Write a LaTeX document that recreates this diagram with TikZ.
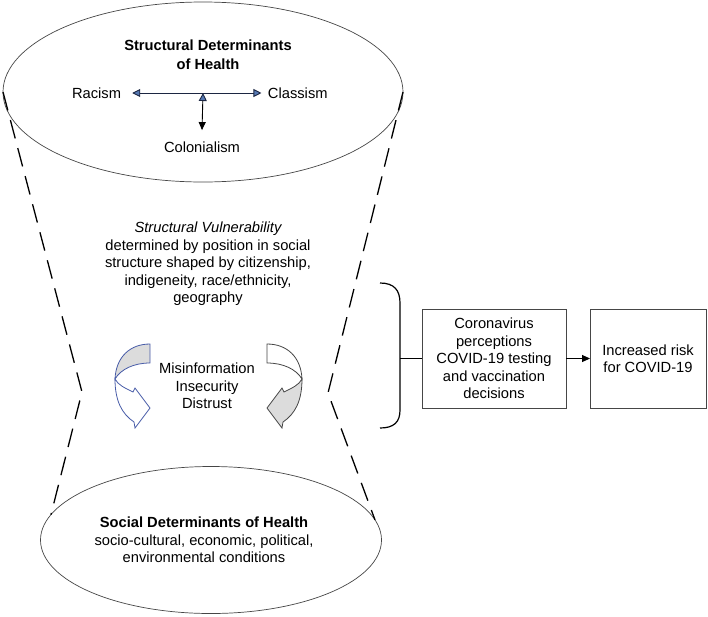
\documentclass[tikz,border=0pt]{standalone}
\usepackage{fontspec}
\setmainfont{Liberation Sans}
\usetikzlibrary{shapes.geometric,arrows.meta}
\definecolor{tipblue}{RGB}{86,120,178}
\definecolor{tipnavy}{RGB}{28,38,66}
\definecolor{arrowblue}{RGB}{72,92,168}
\definecolor{shade}{RGB}{220,220,220}
\definecolor{rim}{RGB}{70,70,70}
% twisted U-turn arrow: back fill, front fill, outline
\newcommand\twistarrow[3]{%
	\filldraw[draw=#3, fill=#1, line width=0.8pt] (150,344) .. controls (130,344) and (116,357) .. (115,379) .. controls (121,369) and (134,363) .. (150,363) -- cycle;
	\filldraw[draw=#3, fill=#2, line width=0.8pt] (115,379) .. controls (115,401) and (122,414) .. (134,422) -- (135,428) -- (150,408) -- (135,388) -- (133,392) .. controls (125,388) and (118,385) .. (115,379) -- cycle;
}
\begin{document}
\begin{tikzpicture}[x=1pt,y=-1pt,
		every node/.style={font=\fontsize{14.7}{17.5}\selectfont, align=center},
		oval/.style={ellipse, draw=rim, line width=0.7pt, outer sep=0pt},
		box/.style={draw=rim, line width=0.7pt, outer sep=0pt},
		cone/.style={dash pattern=on 19pt off 10pt, line width=1.3pt},
		bluetip/.style={draw=tipnavy, line width=0.9pt, {Triangle[length=8pt,width=8pt,fill=tipblue]}-{Triangle[length=8pt,width=8pt,fill=tipblue]}}]
		\useasboundingbox (0,0) rectangle (708,616);
		% Ellipses
			\node [oval, minimum width=400pt, minimum height=180pt] (sdh) at (203,92) {};
			\node [oval, minimum width=341pt, minimum height=147pt] (soc) at (211,540) {};
			
		% Structural determinants
			\node [font=\fontsize{14.7}{19}\selectfont\bfseries] (title) at (208,54.5) {Structural Determinants\\of Health};
			\node (racism) at (96.5,93) {Racism};
			\node (classism) at (297.8,93) {Classism};
			\coordinate (hub) at (203,93);
			\node (colonialism) at (202,147) {Colonialism};
			\draw [bluetip] ([xshift=7.7pt]racism.east) -- ([xshift=-3pt]classism.west);
			\draw [line width=0.9pt, {Triangle[length=8pt,width=8pt,fill=tipblue,color=tipnavy]}-{Triangle[length=8pt,width=7pt]}] (hub) -- ([yshift=8pt]colonialism.north);
			
		% Vulnerability
			\node (vuln) at (208,264) {{\itshape Structural Vulnerability}\\determined by position in social\\structure shaped by citizenship,\\indigeneity, race/ethnicity,\\geography};
			\node (misinfo) at (207,386) {Misinformation\\Insecurity\\Distrust};
			\twistarrow{shade}{white}{arrowblue}
			\begin{scope}[xshift=417pt, xscale=-1]
				\twistarrow{white}{shade}{rim}
			\end{scope}
			
		% Cone
			\coordinate (kinkL) at (82,392);
			\coordinate (kinkR) at (328,393);
			\draw [cone] (sdh.west) -- (kinkL) -- (soc.171);
			\draw [cone] (sdh.east) -- (kinkR) -- (soc.7);
			
		% Social determinants
			\node (sdtext) at (204,540) {{\bfseries Social Determinants of Health}\\socio-cultural, economic, political,\\environmental conditions};
			
		% Outcomes
			\node [box, minimum width=144pt, minimum height=99pt] (box1) at (494,358.5) {Coronavirus\\perceptions\\COVID-19 testing\\and vaccination\\decisions};
			\node [box, minimum width=116pt, minimum height=99pt] (box2) at (648,358.5) {Increased risk\\for COVID-19};
			\coordinate (brace) at (400,358.5);
			\draw [line width=1.2pt] (380,283) .. controls (394,283) and (400,290) .. (400,303) -- (400,410) .. controls (400,422) and (394,428) .. (380,428);
			\draw [line width=1.2pt] (brace) -- (box1.west);
			\draw [line width=1pt, -{Triangle[length=8pt,width=7pt]}] (box1) -- (box2);
			
		\end{tikzpicture}
\end{document}
